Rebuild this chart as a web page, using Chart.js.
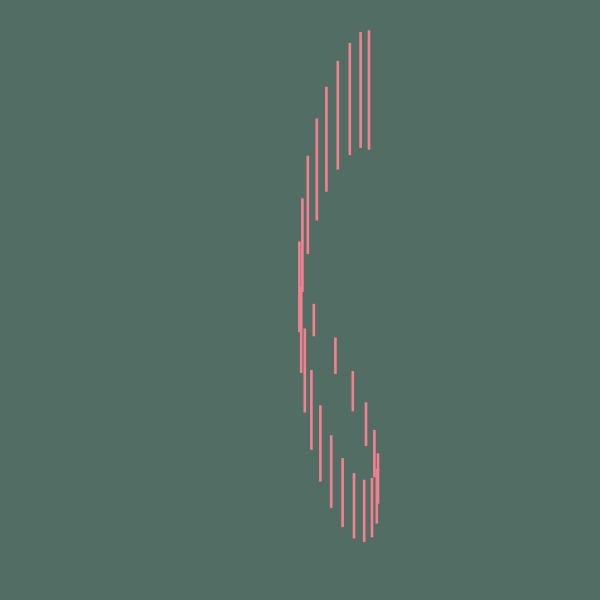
<!DOCTYPE html>
<html>
<head>
<meta charset="utf-8">
<script src="https://cdn.jsdelivr.net/npm/chart.js@4/dist/chart.umd.min.js"></script>
<style>
    body { margin: 0; background: #526d64; }
    #box { width: 600px; height: 600px; }
</style>
</head>
<body>
<div id="box"><canvas id="spiral"></canvas></div>
<script>
// position of each segment along the x axis
const xs = [61.5, 60.1, 58.3, 56.3, 54.4, 52.8, 51.3, 50.4, 49.9, 50.2, 50.8, 52.3, 55.9,
            51.9, 58.8, 53.4, 61.0, 55.2, 62.4, 63.0, 62.8, 57.1, 59.0, 60.7, 62.0];
// lower and upper ends of each segment
const lows = [75.1, 75.4, 74.2, 71.8, 68.1, 63.3, 57.7, 51.4, 44.7, 37.9, 31.3, 44.0, 37.7,
              25.1, 31.5, 19.8, 25.7, 15.4, 20.5, 16.1, 12.8, 12.2, 10.3, 9.7, 10.5];
const highs = [94.9, 94.6, 92.8, 89.8, 85.5, 80.2, 74.0, 66.9, 59.7, 52.2, 45.2, 49.3, 43.7,
               38.3, 38.1, 32.4, 32.9, 27.4, 28.3, 24.4, 21.8, 23.6, 21.1, 20.0, 20.3];

const ctx = document.getElementById('spiral').getContext('2d');
new Chart(ctx, {
    type: 'bar',
    data: {
        datasets: [{
            data: xs.map((x, i) => ({ x: x, y: [lows[i], highs[i]] })),
            backgroundColor: '#f2808e',
            borderWidth: 0,
            barThickness: 2
        }]
    },
    options: {
        responsive: true,
        maintainAspectRatio: false,
        animation: false,
        layout: { padding: 0 },
        plugins: { legend: { display: false }, tooltip: { enabled: false } },
        scales: {
            x: { type: 'linear', min: 0, max: 100, offset: false, display: false },
            y: { min: 0, max: 100, display: false }
        }
    }
});
</script>
</body>
</html>
